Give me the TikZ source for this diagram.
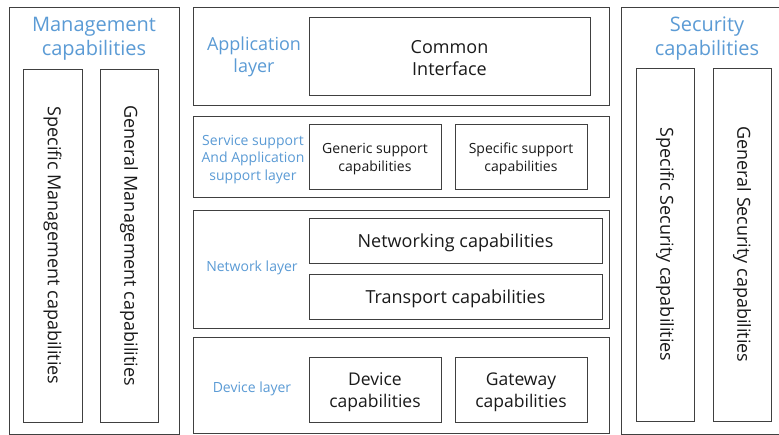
\documentclass[tikz,border=0pt]{standalone}
\usepackage{fontspec}
\setmainfont{Open Sans}
\usetikzlibrary{shadows}
\definecolor{layerblue}{RGB}{91,155,213}
\definecolor{ink}{RGB}{26,26,26}
\begin{document}
\begin{tikzpicture}[x=1pt,y=-1pt,
  panel/.style={draw=black!75, line width=0.9pt, fill=white, inner sep=0pt,
    drop shadow={shadow xshift=1.3pt, shadow yshift=-1.3pt, opacity=0.35}},
  unit/.style={panel},
  title/.style={text=layerblue, align=center, inner sep=0pt, font=\fontsize{20}{24}\selectfont},
  layertxt/.style={text=layerblue, align=center, inner sep=0pt},
  captext/.style={text=ink, align=center, inner sep=0pt, yshift=-2.5pt},
  vtxt/.style={text=ink, inner sep=0pt, rotate=-90, font=\fontsize{18}{21}\selectfont}
]
\useasboundingbox (0,0) rectangle (779,435);

% management column
\node[panel, minimum width=170, minimum height=427] (mgmt) at (94,220.5) {};
\node[title] (mgmtT) at (94,39) {Management\\capabilities};
\node[unit, minimum width=59, minimum height=353] (smgmt) at (52.5,245.5) {};
\node[unit, minimum width=58, minimum height=353] (gmgmt) at (129,245.5) {};
\node[vtxt] (smgmtT) at (smgmt.center) {Specific Management capabilities};
\node[vtxt] (gmgmtT) at (gmgmt.center) {General Management capabilities};

% application layer
\node[panel, minimum width=416, minimum height=98] (app) at (401,56) {};
\node[layertxt, font=\fontsize{18}{22}\selectfont] (appT) at (254,57) {Application\\layer};
\node[unit, minimum width=281, minimum height=78] (ci) at (449.5,56) {};
\node[captext, font=\fontsize{18}{22}\selectfont] (ciT) at (ci.center) {Common\\Interface};

% service support and application support layer
\node[panel, minimum width=416, minimum height=81] (sup) at (401,156.5) {};
\node[layertxt, font=\fontsize{14}{17.5}\selectfont] (supT) at (253,159.5) {Service support\\And Application\\support layer};
\node[unit, minimum width=132, minimum height=65] (gen) at (375,156.5) {};
\node[unit, minimum width=132, minimum height=65] (spec) at (521,156.5) {};
\node[captext, font=\fontsize{14}{18}\selectfont] (genT) at (gen.center) {Generic support\\capabilities};
\node[captext, font=\fontsize{14}{18}\selectfont] (specT) at (spec.center) {Specific support\\capabilities};

% network layer
\node[panel, minimum width=416, minimum height=118] (net) at (401,269) {};
\node[layertxt, font=\fontsize{14}{17}\selectfont] (netT) at (252,268) {Network layer};
\node[unit, minimum width=293, minimum height=45] (nwk) at (455.5,240.5) {};
\node[unit, minimum width=293, minimum height=45] (trn) at (455.5,296.5) {};
\node[captext, font=\fontsize{18}{21}\selectfont] (nwkT) at (nwk.center) {Networking capabilities};
\node[captext, font=\fontsize{18}{21}\selectfont] (trnT) at (trn.center) {Transport capabilities};

% device layer
\node[panel, minimum width=416, minimum height=96] (dev) at (401,385) {};
\node[layertxt, font=\fontsize{14}{17}\selectfont] (devT) at (252,389) {Device layer};
\node[unit, minimum width=132, minimum height=65] (dcap) at (375,389.5) {};
\node[unit, minimum width=132, minimum height=65] (gcap) at (521,389.5) {};
\node[captext, font=\fontsize{17.5}{22}\selectfont] (dcapT) at (dcap.center) {Device\\capabilities};
\node[captext, font=\fontsize{17.5}{22}\selectfont] (gcapT) at (gcap.center) {Gateway\\capabilities};

% security column
\node[panel, minimum width=170, minimum height=427] (sec) at (706,220.5) {};
\node[title] (secT) at (707,39) {Security\\capabilities};
\node[unit, minimum width=58, minimum height=353] (ssec) at (665,244.5) {};
\node[unit, minimum width=58, minimum height=353] (gsec) at (742,244.5) {};
\node[vtxt] (ssecT) at (ssec.center) {Specific Security capabilities};
\node[vtxt] (gsecT) at (gsec.center) {General Security capabilities};
\end{tikzpicture}
\end{document}
